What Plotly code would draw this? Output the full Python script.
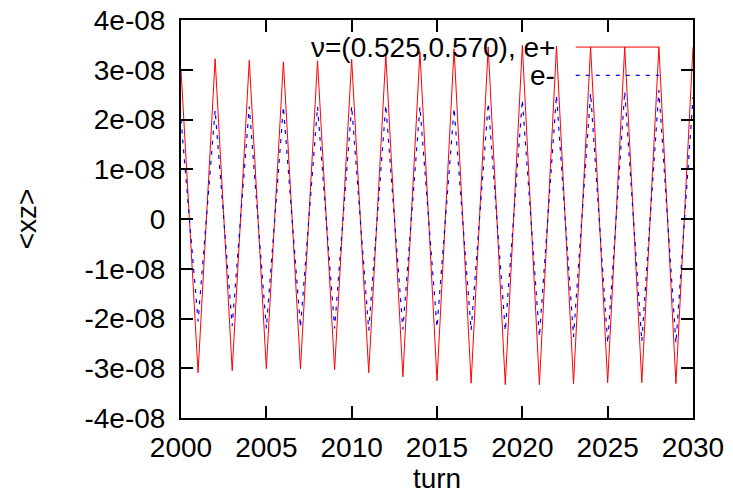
import plotly.graph_objects as go

turns = list(range(2000, 2031))

e_plus = [3.00, -3.09, 3.22, -3.05, 3.19, -3.01, 3.16, -3.01, 3.18, -3.03,
          3.21, -3.09, 3.30, -3.17, 3.36, -3.25, 3.42, -3.30, 3.46, -3.33,
          3.49, -3.33, 3.47, -3.31, 3.46, -3.29, 3.46, -3.29, 3.46, -3.31,
          3.45]
e_minus = [2.00, -2.06, 2.19, -2.15, 2.26, -2.20, 2.26, -2.18, 2.26, -2.20,
           2.27, -2.24, 2.29, -2.22, 2.26, -2.18, 2.23, -2.24, 2.33, -2.25,
           2.40, -2.37, 2.49, -2.37, 2.53, -2.50, 2.57, -2.46, 2.59, -2.50,
           2.45]
e_plus = [v * 1e-8 for v in e_plus]
e_minus = [v * 1e-8 for v in e_minus]

y_tickvals = [-4e-8, -3e-8, -2e-8, -1e-8, 0, 1e-8, 2e-8, 3e-8, 4e-8]
y_ticktext = ["-4e-08", "-3e-08", "-2e-08", "-1e-08", "0",
              "1e-08", "2e-08", "3e-08", "4e-08"]
x_tickvals = [2000, 2005, 2010, 2015, 2020, 2025, 2030]

label_plus = "\u03bd=(0.525,0.570), e+"
label_minus = "e-"

FONT = "Liberation Sans, Arial, Helvetica, sans-serif"
FS = 28

fig = go.Figure()
fig.add_trace(go.Scatter(x=turns, y=e_plus, mode="lines", name="e+",
                         line=dict(color="#ff0000", width=1)))
fig.add_trace(go.Scatter(x=turns, y=e_minus, mode="lines", name="e-",
                         line=dict(color="#0000ff", width=1.2, dash="4px,6px")))

axis_common = dict(showline=True, linecolor="black", linewidth=2,
                   ticks="inside", ticklen=12, tickwidth=2, tickcolor="black",
                   mirror="ticks", showgrid=False, zeroline=False,
                   ticklabeloverflow="allow",
                   tickfont=dict(family=FONT, size=FS, color="black"))

fig.update_xaxes(range=[2000, 2030], tickvals=x_tickvals,
                 ticklabelstandoff=3,
                 title=dict(text="turn", font=dict(family=FONT, size=FS, color="black"),
                            standoff=6),
                 **axis_common)
fig.update_yaxes(range=[-4e-8, 4e-8], tickvals=y_tickvals, ticktext=y_ticktext,
                 ticklabelstandoff=8,
                 title=dict(text="<xz>", font=dict(family=FONT, size=FS, color="black"),
                            standoff=40),
                 **axis_common)

# gnuplot-style key: text right-aligned, sample line to its right
fig.add_annotation(xref="paper", yref="paper", x=0.734, y=0.932,
                   xanchor="right", yanchor="middle", showarrow=False,
                   text=label_plus, font=dict(family=FONT, size=FS, color="black"))
fig.add_annotation(xref="paper", yref="paper", x=0.734, y=0.861,
                   xanchor="right", yanchor="middle", showarrow=False,
                   text=label_minus, font=dict(family=FONT, size=FS, color="black"))
fig.add_shape(type="line", xref="paper", yref="paper", x0=0.771, x1=0.934,
              y0=0.932, y1=0.932, line=dict(color="#ff0000", width=1))
fig.add_shape(type="line", xref="paper", yref="paper", x0=0.771, x1=0.934,
              y0=0.861, y1=0.861, line=dict(color="#0000ff", width=1.2, dash="4px,6px"))

fig.update_layout(width=733, height=504, showlegend=False,
                  paper_bgcolor="white", plot_bgcolor="white",
                  margin=dict(l=181, r=40, t=20, b=86, autoexpand=False),
                  font=dict(family=FONT, size=FS, color="black"))

fig.write_html("out.html",
               config={"displayModeBar": False},
               post_script="document.body.style.margin='0';"
                           "document.body.style.overflow='hidden';")
